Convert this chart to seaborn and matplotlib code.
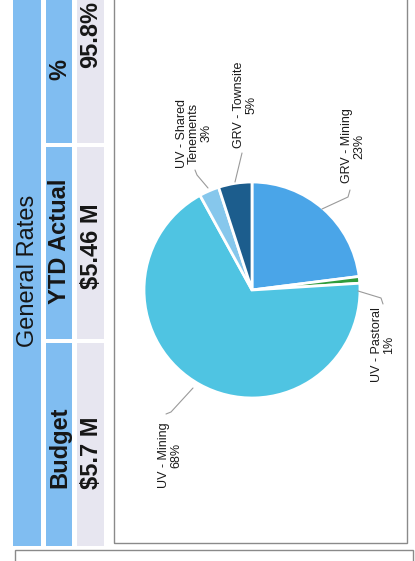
import matplotlib
matplotlib.use("Agg")
import matplotlib.pyplot as plt
from matplotlib.patches import Rectangle
import seaborn as sns

# ---- data -------------------------------------------------------------
categories = ["GRV - Mining", "UV - Pastoral", "UV - Mining",
              "UV - Shared\nTenements", "GRV - Townsite"]
shares = [23, 1, 68, 3, 5]

header_title = "General Rates"
header_cols = ["Budget", "YTD Actual", "%"]
header_vals = ["$5.7 M", "$5.46 M", "95.8%"]

# ---- style ------------------------------------------------------------
sns.set_theme(style="white")
plt.rcParams["font.family"] = ["Liberation Sans", "DejaVu Sans"]

slice_colors = sns.color_palette(["#4aa5e8", "#2f9c3c", "#4fc4e2",
                                  "#86c7ec", "#1c5d8d"])
head_blue = "#80bdf1"
value_grey = "#e7e6f0"
frame_grey = "#8a8a8a"
lead_grey = "#9a9a9a"

W, H = 415, 561
fig = plt.figure(figsize=(W / 100, H / 100), dpi=100)
ax = fig.add_axes([0, 0, 1, 1])


def Y(y):
    """Convert a top-down pixel row into the axes' bottom-up coordinate."""
    return H - y


# ---- pie --------------------------------------------------------------
cx, cy, r = 252, Y(290), 108
ax.pie(shares, colors=slice_colors, startangle=90, counterclock=False,
       center=(cx, cy), radius=r,
       wedgeprops=dict(edgecolor="white", linewidth=2.0))

# ---- frames -----------------------------------------------------------
ax.add_patch(Rectangle((114, Y(543)), 293, 553, fill=False,
                       edgecolor=frame_grey, linewidth=1.0, zorder=1))
ax.add_patch(Rectangle((15, Y(575)), 398, 25, fill=False,
                       edgecolor=frame_grey, linewidth=1.0, zorder=1))

# ---- header table -----------------------------------------------------
ax.add_patch(Rectangle((13, Y(546)), 28, 552, facecolor=head_blue,
                       edgecolor="none"))
ax.text(27.5, Y(271), header_title, rotation=90, ha="center", va="center",
        fontsize=17, color="#161616")

rows = [(343, 546), (147, 339), (-6, 143)]
label_y = [447, 241, 69]
value_y = [453, 246, 34]
for (top, bot), name, val, ly, vy in zip(rows, header_cols, header_vals,
                                         label_y, value_y):
    ax.add_patch(Rectangle((46, Y(bot)), 26, bot - top,
                           facecolor=head_blue, edgecolor="none"))
    ax.add_patch(Rectangle((77, Y(bot)), 27, bot - top,
                           facecolor=value_grey, edgecolor="none"))
    ax.text(59.5, Y(ly), name, rotation=90, ha="center", va="center",
            fontsize=17, fontweight="bold", color="#161616")
    ax.text(91, Y(vy), val, rotation=90, ha="center", va="center",
            fontsize=17, fontweight="bold", color="#161616")

# ---- slice labels with leader lines ------------------------------------
label_pos = [(353, 146), (383, 345), (170, 455), (194, 133), (245, 105)]
leaders = [
    [(322, 209), (348, 197), (350, 190)],
    [(358, 291), (381, 298), (383, 304)],
    [(193, 388), (171, 412), (166, 414)],
    [(208, 188), (197, 175), (195, 170)],
    [(235, 182), (242, 153)],
]
for name, v, (lx, ly), pts in zip(categories, shares, label_pos, leaders):
    ax.text(lx, Y(ly), f"{name}\n{v}%", rotation=90, ha="center",
            va="center", multialignment="center", fontsize=9,
            linespacing=1.05, color="#1a1a1a")
    xs = [p[0] for p in pts]
    ys = [Y(p[1]) for p in pts]
    ax.plot(xs, ys, color=lead_grey, linewidth=0.8)

ax.set_xlim(0, W)
ax.set_ylim(0, H)
ax.set_aspect("auto")
ax.set_axis_off()

fig.savefig("out.png", dpi=100, facecolor="white")
